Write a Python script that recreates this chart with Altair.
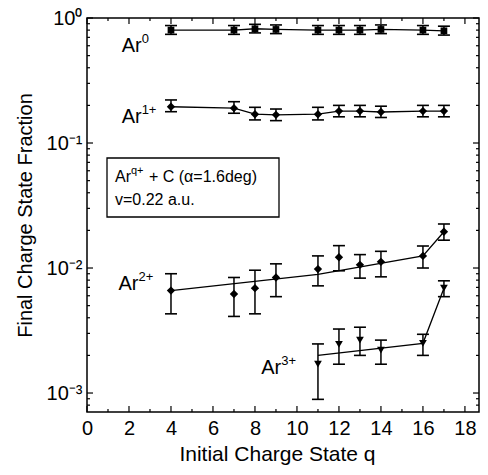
import altair as alt
import pandas as pd

# ---------------- data ----------------
q_all = [4, 7, 8, 9, 11, 12, 13, 14, 16, 17]

ar0 = [0.80, 0.80, 0.82, 0.81, 0.80, 0.80, 0.80, 0.81, 0.80, 0.79]
ar0_lo = [0.74, 0.74, 0.76, 0.75, 0.74, 0.74, 0.74, 0.75, 0.74, 0.73]
ar0_hi = [0.87, 0.87, 0.89, 0.88, 0.87, 0.87, 0.87, 0.88, 0.87, 0.86]

ar1 = [0.195, 0.19, 0.17, 0.168, 0.17, 0.18, 0.18, 0.177, 0.18, 0.18]
ar1_lo = [0.178, 0.173, 0.153, 0.151, 0.153, 0.162, 0.162, 0.160, 0.162, 0.162]
ar1_hi = [0.221, 0.214, 0.193, 0.187, 0.193, 0.200, 0.200, 0.197, 0.200, 0.200]

ar2 = [0.0066, 0.0062, 0.0069, 0.0084, 0.0098, 0.0122, 0.0106, 0.0112, 0.0125, 0.0195]
ar2_lo = [0.0043, 0.0041, 0.0043, 0.0059, 0.0072, 0.0095, 0.0083, 0.0085, 0.0100, 0.0167]
ar2_hi = [0.0090, 0.0084, 0.0096, 0.0108, 0.0125, 0.0151, 0.0128, 0.0136, 0.0150, 0.0225]
ar2_fit_q = [4, 11, 16, 17]
ar2_fit = [0.0066, 0.0089, 0.0125, 0.0195]

q3 = [11, 12, 13, 14, 16, 17]
ar3 = [0.0017, 0.00245, 0.00265, 0.0022, 0.0025, 0.0069]
ar3_lo = [0.00089, 0.0017, 0.0020, 0.0017, 0.0020, 0.0059]
ar3_hi = [0.00247, 0.00325, 0.00336, 0.00265, 0.00295, 0.0079]
ar3_fit_q = [11, 16, 17]
ar3_fit = [0.0020, 0.0025, 0.0069]

label_main = ["Ar", "Ar", "Ar", "Ar"]
label_sup = ["0", "1+", "2+", "3+"]
label_q = [1.65, 1.65, 1.5, 8.3]
label_y = [0.53, 0.145, 0.0067, 0.00142]

x_ticks_major = [0, 2, 4, 6, 8, 10, 12, 14, 16, 18]
x_ticks_minor = [1, 3, 5, 7, 9, 11, 13, 15, 17]
y_ticks_major = [0.001, 0.01, 0.1, 1]
y_tick_text = ["10\u207b\u00b3", "10\u207b\u00b2", "10\u207b\u00b9", "10\u2070"]
y_ticks_minor = [0.0008, 0.0009,
                 0.002, 0.003, 0.004, 0.005, 0.006, 0.007, 0.008, 0.009,
                 0.02, 0.03, 0.04, 0.05, 0.06, 0.07, 0.08, 0.09,
                 0.2, 0.3, 0.4, 0.5, 0.6, 0.7, 0.8, 0.9]

# ---------------- layout ----------------
W, H = 392, 394
FONT = "Liberation Sans"
BLACK = "black"

xs = alt.Scale(domain=[0, 18.67], nice=False, zero=False)
ys = alt.Scale(type="log", domain=[0.000705, 1], nice=False)

label_expr = ("datum.value < 0.005 ? '%s' : datum.value < 0.05 ? '%s' : "
              "datum.value < 0.5 ? '%s' : '%s'" % tuple(y_tick_text))

X_AXIS = alt.Axis(values=x_ticks_major, ticks=False, domain=False, grid=False,
                  labelFont=FONT, labelFontSize=20, labelColor=BLACK,
                  labelPadding=6, labelFlush=False,
                  title="Initial Charge State q", titleFont=FONT,
                  titleFontSize=21, titleFontWeight="normal",
                  titleColor=BLACK, titlePadding=5, titleX=190, titleAlign="center")
Y_AXIS = alt.Axis(values=y_ticks_major, ticks=False, domain=False, grid=False,
                  labelExpr=label_expr,
                  labelFont=FONT, labelFontSize=20, labelColor=BLACK,
                  labelPadding=5, labelFlush=False,
                  title="Final Charge State Fraction", titleFont=FONT,
                  titleFontSize=20, titleFontWeight="normal",
                  titleColor=BLACK, titlePadding=11)


def X(field="q"):
    return alt.X(f"{field}:Q", scale=xs, axis=X_AXIS)


def Y(field="v"):
    return alt.Y(f"{field}:Q", scale=ys, axis=Y_AXIS)


def series(q, v, lo, hi, shape, size):
    df = pd.DataFrame({"q": q, "v": v, "lo": lo, "hi": hi})
    base = alt.Chart(df)
    bars = base.mark_rule(color=BLACK, strokeWidth=1.5).encode(
        x=X(), y=Y("lo"), y2="hi:Q")
    cap_lo = base.mark_tick(orient="horizontal", size=12, thickness=1.6,
                            color=BLACK, opacity=1).encode(x=X(), y=Y("lo"))
    cap_hi = base.mark_tick(orient="horizontal", size=12, thickness=1.6,
                            color=BLACK, opacity=1).encode(x=X(), y=Y("hi"))
    pts = base.mark_point(shape=shape, filled=True, size=size, color=BLACK,
                          opacity=1).encode(x=X(), y=Y())
    return [bars, cap_lo, cap_hi, pts]


def line(q, v):
    df = pd.DataFrame({"q": q, "v": v})
    return alt.Chart(df).mark_line(color=BLACK, strokeWidth=1.3).encode(
        x=X(), y=Y())


# inward ticks on all four sides
def xticks(vals, length):
    df = pd.DataFrame({"q": vals})
    b = alt.Chart(df).mark_rule(color=BLACK, strokeWidth=1.2)
    return [b.encode(x=X(), y=alt.value(H), y2=alt.value(H - length)),
            b.encode(x=X(), y=alt.value(0), y2=alt.value(length))]


def yticks(vals, length):
    df = pd.DataFrame({"v": vals})
    b = alt.Chart(df).mark_rule(color=BLACK, strokeWidth=1.2)
    return [b.encode(y=Y(), x=alt.value(0), x2=alt.value(length)),
            b.encode(y=Y(), x=alt.value(W), x2=alt.value(W - length))]


# series labels
lab_df = pd.DataFrame({"q": label_q, "v": label_y, "t": label_main, "s": label_sup})
lab_main = alt.Chart(lab_df).mark_text(font=FONT, fontSize=20, align="left",
                                       baseline="alphabetic", color=BLACK).encode(
    x=X(), y=Y(), text="t:N")
lab_sup = alt.Chart(lab_df).mark_text(font=FONT, fontSize=13, align="left",
                                      baseline="alphabetic", color=BLACK,
                                      dx=20, dy=-9).encode(
    x=X(), y=Y(), text="s:N")

# annotation box
one = alt.Data(values=[{"a": 1}])
box = alt.Chart(one).mark_rect(fill="white", stroke=BLACK, strokeWidth=1.3).encode(
    x=alt.value(20), x2=alt.value(192), y=alt.value(140), y2=alt.value(199))


def ptext(txt, x, y, size):
    return alt.Chart(one).mark_text(text=txt, font=FONT, fontSize=size,
                                    align="left", baseline="alphabetic",
                                    color=BLACK).encode(
        x=alt.value(x), y=alt.value(y))


box_txt = [
    ptext("Ar", 28, 164, 16),
    ptext("q+", 44, 156, 11),
    ptext("+ C (\u03b1=1.6deg)", 62, 164, 16),
    ptext("v=0.22 a.u.", 28, 187, 16),
]

layers = []
layers += xticks(x_ticks_major, 6) + xticks(x_ticks_minor, 3)
layers += yticks(y_ticks_major, 6) + yticks(y_ticks_minor, 3)
layers += [line(q_all, ar0), line(q_all, ar1), line(ar2_fit_q, ar2_fit),
           line(ar3_fit_q, ar3_fit)]
layers += series(q_all, ar0, ar0_lo, ar0_hi, "square", 45)
layers += series(q_all, ar1, ar1_lo, ar1_hi, "diamond", 70)
layers += series(q_all, ar2, ar2_lo, ar2_hi, "diamond", 70)
layers += series(q3, ar3, ar3_lo, ar3_hi, "triangle-down", 60)
layers += [lab_main, lab_sup, box] + box_txt

chart = alt.layer(*layers).properties(
    width=W, height=H,
    background="white",
    autosize=alt.AutoSizeParams(type="none"),
    padding={"left": 79, "top": 10, "right": 1, "bottom": 53},
).configure_view(stroke=BLACK, strokeWidth=1.5)

chart.save("out.html", embed_options={"renderer": "svg", "actions": False})
